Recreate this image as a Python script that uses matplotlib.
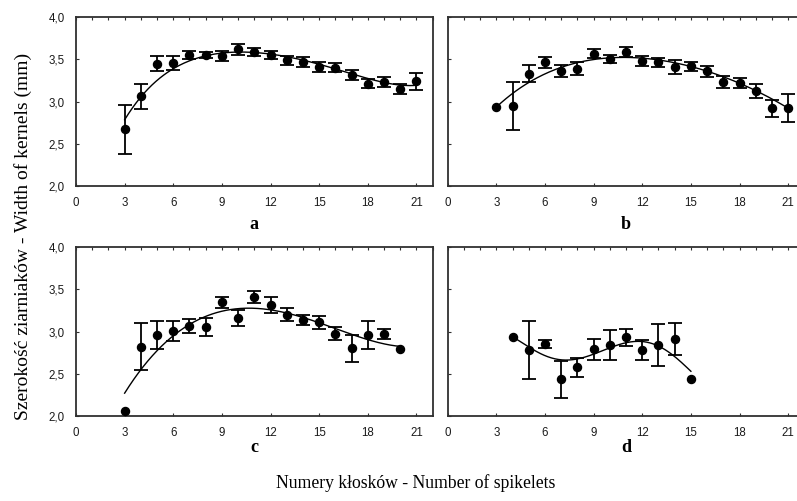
import numpy as np
import matplotlib
matplotlib.use("Agg")
import matplotlib.pyplot as plt
from matplotlib.ticker import MultipleLocator, FixedLocator, FixedFormatter

# ---------------- data ----------------
x_ticks = [0, 3, 6, 9, 12, 15, 18, 21]
x_tick_labels = ["0", "3", "6", "9", "12", "15", "18", "21"]
y_ticks = [2.0, 2.5, 3.0, 3.5, 4.0]
y_tick_labels = ["2,0", "2,5", "3,0", "3,5", "4,0"]

panel_labels = ["a", "b", "c", "d"]

# panel a
a_x = list(range(3, 22))
a_y = [2.67, 3.06, 3.45, 3.46, 3.55, 3.55, 3.54, 3.62, 3.59, 3.555, 3.49, 3.47,
       3.41, 3.40, 3.32, 3.21, 3.23, 3.15, 3.24]
a_err = [0.29, 0.15, 0.09, 0.08, 0.05, 0.035, 0.055, 0.068, 0.05, 0.05, 0.055, 0.06,
         0.055, 0.055, 0.06, 0.055, 0.06, 0.06, 0.10]
a_fit_x = list(range(3, 22))
a_fit_y = [2.78, 3.06, 3.25, 3.39, 3.48, 3.54, 3.575, 3.59, 3.585, 3.565, 3.53, 3.49,
           3.44, 3.39, 3.33, 3.27, 3.225, 3.20, 3.19]

# panel b
b_x = list(range(3, 22))
b_y = [2.935, 2.95, 3.33, 3.465, 3.36, 3.39, 3.57, 3.50, 3.59, 3.48, 3.465, 3.41,
       3.42, 3.36, 3.235, 3.22, 3.125, 2.92, 2.92]
b_err = [None, 0.285, 0.10, 0.063, 0.07, 0.075, 0.05, 0.048, 0.06, 0.063, 0.05, 0.08,
         0.055, 0.065, 0.072, 0.055, 0.078, 0.10, 0.165]
b_fit_x = list(range(3, 22))
b_fit_y = [2.93, 3.10, 3.23, 3.33, 3.40, 3.45, 3.50, 3.525, 3.53, 3.52, 3.49, 3.45,
           3.42, 3.36, 3.29, 3.22, 3.13, 3.03, 2.92]

# panel c
c_x = list(range(3, 21))
c_y = [2.055, 2.82, 2.96, 3.01, 3.065, 3.05, 3.35, 3.16, 3.41, 3.315, 3.20, 3.14,
       3.11, 2.975, 2.80, 2.96, 2.97, 2.79]
c_err = [None, 0.28, 0.165, 0.12, 0.085, 0.105, 0.065, 0.098, 0.07, 0.09, 0.075, 0.06,
         0.08, 0.075, 0.157, 0.163, 0.055, None]
c_fit_x = list(range(3, 21))
c_fit_y = [2.26, 2.55, 2.79, 2.96, 3.065, 3.16, 3.23, 3.275, 3.295, 3.28, 3.225, 3.155,
           3.09, 3.02, 2.96, 2.92, 2.87, 2.81]

# panel d
d_x = list(range(4, 16))
d_y = [2.93, 2.78, 2.85, 2.43, 2.575, 2.79, 2.84, 2.93, 2.78, 2.84, 2.91, 2.43]
d_err = [None, 0.34, 0.047, 0.22, 0.112, 0.125, 0.18, 0.10, 0.115, 0.25, 0.188, None]
d_fit_x = list(range(4, 16))
d_fit_y = [2.93, 2.83, 2.72, 2.645, 2.65, 2.76, 2.83, 2.855, 2.855, 2.83, 2.72, 2.52]

panels = [
    (a_x, a_y, a_err, a_fit_x, a_fit_y),
    (b_x, b_y, b_err, b_fit_x, b_fit_y),
    (c_x, c_y, c_err, c_fit_x, c_fit_y),
    (d_x, d_y, d_err, d_fit_x, d_fit_y),
]

# ---------------- layout ----------------
W, H = 797, 501
fig = plt.figure(figsize=(W / 100, H / 100), dpi=100)

ax_w = 356.7
ax_h = 168.4
lefts = [76, 447.7, 76, 447.7]
tops = [17.3, 17.3, 247.3, 247.3]
label_y = [229, 229, 452, 452]

sans = "Liberation Sans"
serif = "Liberation Serif"
spine_col = "#303030"

for i, (px, py, perr, fx, fy) in enumerate(panels):
    l, t = lefts[i], tops[i]
    ax = fig.add_axes([l / W, 1 - (t + ax_h) / H, ax_w / W, ax_h / H])
    ax.set_xlim(0, 22)
    ax.set_ylim(2.0, 4.0)

    err = np.array([np.nan if e is None else e for e in perr], dtype=float)
    ax.errorbar(px, py, yerr=err, fmt="o", color="black", ms=5.8,
                elinewidth=1.3, capsize=5, capthick=1.3, zorder=3)

    coef = np.polyfit(fx, fy, 5)
    xs = np.linspace(fx[0], fx[-1], 300)
    ax.plot(xs, np.polyval(coef, xs), color="black", lw=1.0, zorder=2)

    ax.xaxis.set_major_locator(FixedLocator(x_ticks))
    ax.xaxis.set_major_formatter(FixedFormatter(x_tick_labels))
    ax.xaxis.set_minor_locator(MultipleLocator(1))
    ax.yaxis.set_major_locator(FixedLocator(y_ticks))
    if i % 2 == 0:
        ax.yaxis.set_major_formatter(FixedFormatter(y_tick_labels))
    else:
        ax.yaxis.set_major_formatter(FixedFormatter([""] * len(y_ticks)))

    ax.tick_params(which="major", direction="in", length=2.5, width=0.8,
                   color=spine_col, top=True, bottom=True, left=True, right=False,
                   labelsize=8.3, pad=8.0, labelcolor="#1a1a1a")
    ax.tick_params(which="minor", direction="in", length=2.5, width=0.8,
                   color=spine_col, top=True, bottom=False, left=False, right=False)
    for lab in ax.get_xticklabels() + ax.get_yticklabels():
        lab.set_fontfamily(sans)
    for s in ax.spines.values():
        s.set_linewidth(1.3)
        s.set_color(spine_col)

    cx = (l + ax_w / 2) / W
    fig.text(cx, 1 - label_y[i] / H, panel_labels[i], ha="center", va="baseline",
             fontsize=13, fontweight="bold", family=serif)

fig.text(416 / W, 1 - 488 / H, "Numery kłosków - Number of spikelets",
         ha="center", va="baseline", fontsize=12.7, family=serif)
fig.text(23 / W, 1 - 236 / H, "Szerokość ziarniaków - Width of kernels (mm)",
         ha="center", va="center", rotation=90, fontsize=14, family=serif)

fig.savefig("out.png", dpi=100)
